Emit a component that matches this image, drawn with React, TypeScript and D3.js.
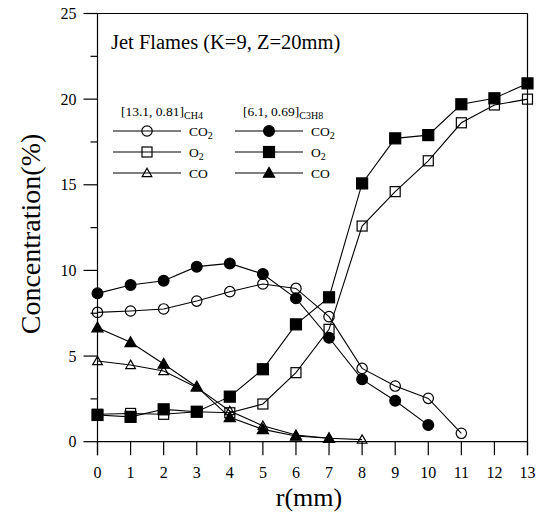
import React from 'react';
import * as d3 from 'd3';

const R_VALUES = [0, 1, 2, 3, 4, 5, 6, 7, 8, 9, 10, 11, 12, 13];

// CH4 flame [13.1, 0.81]
const CH4_CO2 = [7.55, 7.63, 7.75, 8.21, 8.76, 9.21, 8.95, 7.3, 4.28, 3.25, 2.53, 0.49];
const CH4_O2 = [1.6, 1.65, 1.6, 1.75, 1.69, 2.2, 4.03, 6.56, 12.59, 14.6, 16.4, 18.62, 19.66, 20.0];
const CH4_CO = [4.71, 4.48, 4.13, 3.17, 1.79, 0.93, 0.39, 0.2, 0.12];

// C3H8 flame [6.1, 0.69]
const C3H8_CO2 = [8.66, 9.15, 9.4, 10.22, 10.41, 9.79, 8.37, 6.07, 3.64, 2.39, 0.97];
const C3H8_O2 = [1.56, 1.45, 1.89, 1.75, 2.63, 4.23, 6.85, 8.43, 15.08, 17.71, 17.9, 19.7, 20.05, 20.92];
const C3H8_CO = [6.66, 5.8, 4.54, 3.21, 1.42, 0.72, 0.33, 0.2];

const Y_MAJOR = [0, 5, 10, 15, 20, 25];
const Y_MINOR = [2.5, 7.5, 12.5, 17.5, 22.5];

const FONT = '"Liberation Serif", "Times New Roman", serif';

const W = 540;
const H = 517;
const left = 97.5;
const right = 527.5;
const top = 13.5;
const bottom = 441.7;

type Shape = 'circle' | 'square' | 'triangle';

const Marker = ({ x, y, shape, filled }: { x: number; y: number; shape: Shape; filled: boolean }) => {
  const fill = filled ? '#000' : 'none';
  const sw = 1.2;
  if (shape === 'circle') {
    return <circle cx={x} cy={y} r={filled ? 5.4 : 5.2} fill={fill} stroke='#000' strokeWidth={sw} />;
  }
  if (shape === 'square') {
    const s = filled ? 11 : 10;
    return <rect x={x - s / 2} y={y - s / 2} width={s} height={s} fill={fill} stroke='#000' strokeWidth={sw} />;
  }
  const t = filled ? 5.6 : 4.8;
  const tri = d3.line()([[x, y - t], [x + t, y + t * 0.75], [x - t, y + t * 0.75]]) + 'Z';
  return <path d={tri} fill={fill} stroke='#000' strokeWidth={sw} />;
};

const SERIES = [
  { data: CH4_CO2, shape: 'circle' as Shape, filled: false },
  { data: CH4_O2, shape: 'square' as Shape, filled: false },
  { data: CH4_CO, shape: 'triangle' as Shape, filled: false },
  { data: C3H8_CO2, shape: 'circle' as Shape, filled: true },
  { data: C3H8_O2, shape: 'square' as Shape, filled: true },
  { data: C3H8_CO, shape: 'triangle' as Shape, filled: true },
];

const LEGEND_ROWS = [
  { label: 'CO', sub: '2', shape: 'circle' as Shape },
  { label: 'O', sub: '2', shape: 'square' as Shape },
  { label: 'CO', sub: '', shape: 'triangle' as Shape },
];

const App = () => {
  const xScale = d3.scaleLinear().domain([0, 13]).range([left, right]);
  const yScale = d3.scaleLinear().domain([0, 25]).range([bottom, top]);

  const lineGen = d3.line<number>()
    .x((d, i) => xScale(R_VALUES[i]))
    .y(d => yScale(d));

  const legendCols = [
    { x0: 113, header: '[13.1, 0.81]', headSub: 'CH4', headX: 121, filled: false },
    { x0: 235, header: '[6.1, 0.69]', headSub: 'C3H8', headX: 243, filled: true },
  ];
  const rowY = [131, 152, 173];

  return (
    <svg width={W} height={H} style={{ position: 'absolute', left: 0, top: 0, background: '#fff' }} fontFamily={FONT}>
      {/* frame */}
      <path d={`M${left},${bottom + 13.5} V${top} H${right} V${bottom + 13.5}`} fill='none' stroke='#000' strokeWidth={1.2} />
      <line x1={left} x2={right} y1={bottom} y2={bottom} stroke='#000' strokeWidth={1.2} />

      {/* y ticks */}
      {Y_MAJOR.map(v => (
        <g key={'ym' + v}>
          <line x1={left - 14} x2={left} y1={yScale(v)} y2={yScale(v)} stroke='#000' strokeWidth={1.2} />
          <text x={left - 21} y={yScale(v) + 5.5} textAnchor='end' fontSize={16}>{v}</text>
        </g>
      ))}
      {Y_MINOR.map(v => (
        <line key={'yn' + v} x1={left - 7} x2={left} y1={yScale(v)} y2={yScale(v)} stroke='#000' strokeWidth={1.2} />
      ))}

      {/* x ticks */}
      {R_VALUES.map(v => (
        <g key={'x' + v}>
          <line x1={xScale(v)} x2={xScale(v)} y1={bottom} y2={bottom + 13.5} stroke='#000' strokeWidth={1.2} />
          <text x={xScale(v)} y={478} textAnchor='middle' fontSize={16}>{v}</text>
        </g>
      ))}

      {/* axis titles */}
      <text x={309} y={506} textAnchor='middle' fontSize={26}>r(mm)</text>
      <text transform={`translate(40,234) rotate(-90)`} textAnchor='middle' fontSize={28}>Concentration(%)</text>

      {/* title */}
      <text x={111} y={49} fontSize={20.5}>Jet Flames (K=9, Z=20mm)</text>

      {/* legend */}
      {legendCols.map((c, ci) => (
        <g key={'lc' + ci}>
          <text x={c.headX} y={116} fontSize={13.5}>
            {c.header}
            <tspan fontSize={10} dy={3}>{c.headSub}</tspan>
          </text>
          {LEGEND_ROWS.map((r, ri) => (
            <g key={'lr' + ri}>
              <line x1={c.x0} x2={c.x0 + 68} y1={rowY[ri]} y2={rowY[ri]} stroke='#000' strokeWidth={1.1} />
              <Marker x={c.x0 + 34} y={rowY[ri]} shape={r.shape} filled={c.filled} />
              <text x={c.x0 + 76} y={rowY[ri] + 4.5} fontSize={13.5}>
                {r.label}
                {r.sub ? <tspan fontSize={10} dy={3}>{r.sub}</tspan> : null}
              </text>
            </g>
          ))}
        </g>
      ))}

      {/* series */}
      {SERIES.map((s, si) => (
        <g key={'s' + si}>
          <path d={lineGen(s.data) || ''} fill='none' stroke='#000' strokeWidth={1.1} />
          {s.data.map((v, i) => (
            <Marker key={i} x={xScale(R_VALUES[i])} y={yScale(v)} shape={s.shape} filled={s.filled} />
          ))}
        </g>
      ))}
    </svg>
  );
};

export default App;
